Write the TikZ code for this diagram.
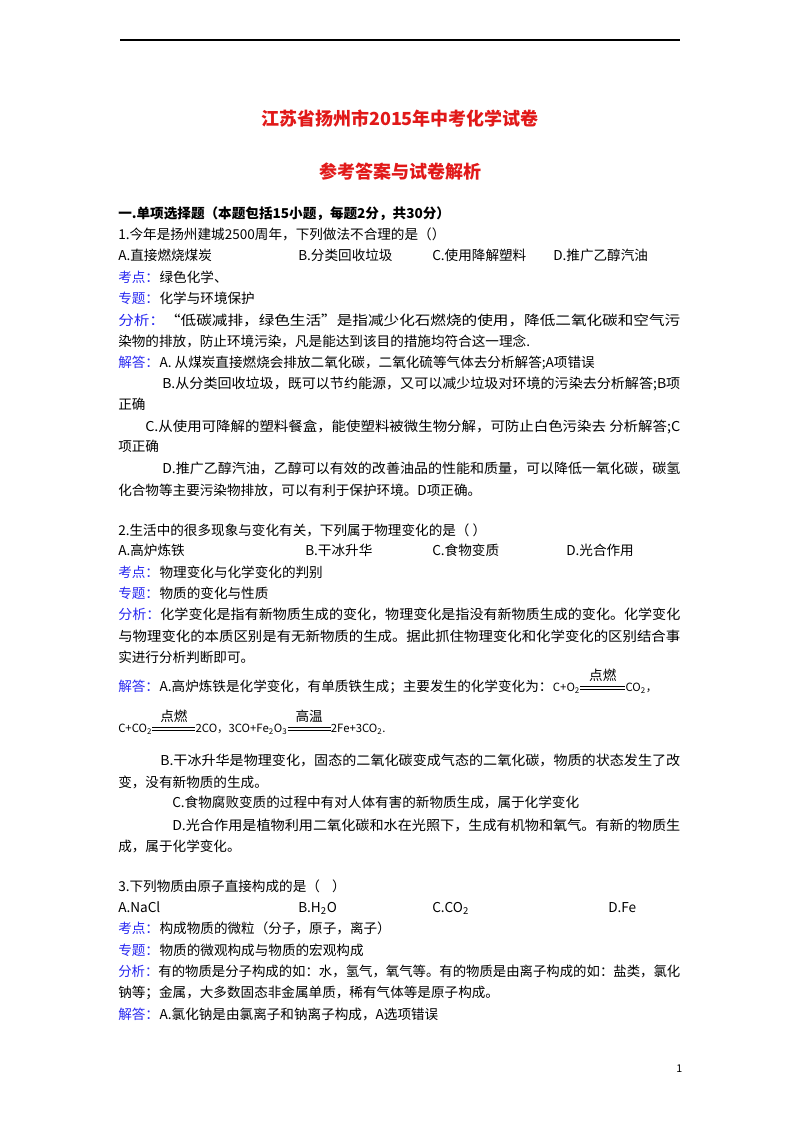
\documentclass[tikz,border=0pt]{standalone}
\usepackage{fontspec}
\usepackage{graphicx}
\setmainfont{Noto Sans CJK SC}
\usetikzlibrary{calc}
\definecolor{kblue}{RGB}{40,40,240}
\definecolor{kred}{RGB}{225,25,25}
\tikzset{x=0.75pt,y=-0.75pt,
 t/.style={anchor=base west,inner sep=0pt,font=\fontsize{10.2}{12}\selectfont},
 lab/.style={t,text=kblue},
 eqf/.style={t,font=\fontsize{8.5}{10}\selectfont},
 up/.style={anchor=base,inner sep=0pt,font=\fontsize{10.2}{12}\selectfont}}
\newcommand{\s}[1]{\textsubscript{#1}}
\newcommand{\fl}[2]{\resizebox{#1}{\height}{#2}}
\newcommand{\bl}[1]{\textcolor{kblue}{#1}}
\newcommand{\eqbar}[2]{\draw[line width=0.5pt] ($(#1)+(0,-1.2)$) -- ($(#2)+(0,-1.2)$); \draw[line width=0.5pt] ($(#1)+(0,1.2)$) -- ($(#2)+(0,1.2)$);}
\begin{document}
\begin{tikzpicture}
\useasboundingbox (0,0) rectangle (800,1132);
\draw[line width=0.8pt] (120,40) coordinate (r1) -- (680,40) coordinate (r2);
\node[anchor=base,inner sep=0pt,text=kred,font=\fontsize{13.5}{16}\bfseries\selectfont] (title) at (400,125) {江苏省扬州市2015年中考化学试卷};
\node[anchor=base,inner sep=0pt,text=kred,font=\fontsize{13.5}{16}\bfseries\selectfont] (sub) at (400,178) {参考答案与试卷解析};
\node[t,font=\fontsize{10.2}{12}\bfseries\selectfont] (h1) at (118,218) {一.单项选择题（本题包括15小题，每题2分，共30分）};
\node[t] (q1) at (118,239) {1.今年是扬州建城2500周年，下列做法不合理的是（）};
\node[t] (q1a) at (118,260) {A.直接燃烧煤炭};
\node[t] (q1b) at (298,260) {B.分类回收垃圾};
\node[t] (q1c) at (432,260) {C.使用降解塑料};
\node[t] (q1d) at (553,260) {D.推广乙醇汽油};
\node[lab] (k1) at (118,282) {考点：};
\node[t] (k1t) at (k1.base east) {绿色化学、};
\node[lab] (z1) at (118,303) {专题：};
\node[t] (z1t) at (z1.base east) {化学与环境保护};
\node[t] (f1) at (118,325) {\fl{421.5pt}{\bl{分析：}“低碳减排，绿色生活”是指减少化石燃烧的使用，降低二氧化碳和空气污}};
\node[t] (f1u) at (118,346) {染物的排放，防止环境污染，凡是能达到该目的措施均符合这一理念.};
\node[lab] (j1) at (118,367) {解答：};
\node[t] (j1t) at (j1.base east) {A.\ 从煤炭直接燃烧会排放二氧化碳，二氧化硫等气体去分析解答;A项错误};
\node[t] (j1b) at (162,388) {\fl{388.5pt}{B.从分类回收垃圾，既可以节约能源，又可以减少垃圾对环境的污染去分析解答;B项}};
\node[t] (j1b2) at (118,409) {正确};
\node[t] (j1c) at (145,431) {\fl{401.25pt}{C.从使用可降解的塑料餐盒，能使塑料被微生物分解，可防止白色污染去\ 分析解答;C}};
\node[t] (j1c2) at (118,451) {项正确};
\node[t] (j1d) at (162,473) {\fl{388.5pt}{D.推广乙醇汽油，乙醇可以有效的改善油品的性能和质量，可以降低一氧化碳，碳氢}};
\node[t] (j1d2) at (118,495) {化合物等主要污染物排放，可以有利于保护环境。D项正确。};
\node[t] (q2) at (118,535) {2.生活中的很多现象与变化有关，下列属于物理变化的是（\ ）};
\node[t] (q2a) at (118,555) {A.高炉炼铁};
\node[t] (q2b) at (305,555) {B.干冰升华};
\node[t] (q2c) at (432,555) {C.食物变质};
\node[t] (q2d) at (566,555) {D.光合作用};
\node[lab] (k2) at (118,577) {考点：};
\node[t] (k2t) at (k2.base east) {物理变化与化学变化的判别};
\node[lab] (z2) at (118,598) {专题：};
\node[t] (z2t) at (z2.base east) {物质的变化与性质};
\node[t] (f2) at (118,619) {\fl{421.5pt}{\bl{分析：}化学变化是指有新物质生成的变化，物理变化是指没有新物质生成的变化。化学变化}};
\node[t] (f2u) at (118,641) {\fl{421.5pt}{与物理变化的本质区别是有无新物质的生成。据此抓住物理变化和化学变化的区别结合事}};
\node[t] (f2v) at (118,662) {实进行分析判断即可。};
\node[lab] (j2) at (118,691) {解答：};
\node[t] (j2t) at (j2.base east) {A.高炉炼铁是化学变化，有单质铁生成；主要发生的化学变化为：};
\node[eqf] (e1l) at (j2t.base east) {C+O\s{2}};
\coordinate (e1a) at ($(e1l.base east)+(0,-3)$);
\coordinate (e1b) at ($(e1a)+(45,0)$);
\eqbar{e1a}{e1b}
\node[up] (e1c) at ($(e1a)!0.5!(e1b)+(0,-8)$) {点燃};
\node[eqf] (e1r) at (e1l.base east -| e1b) {CO\s{2}，};
\node[eqf] (e2l) at (118,732) {C+CO\s{2}};
\coordinate (e2a) at ($(e2l.base east)+(0,-3)$);
\coordinate (e2b) at ($(e2a)+(43,0)$);
\eqbar{e2a}{e2b}
\node[up] (e2c) at ($(e2a)!0.5!(e2b)+(0,-8)$) {点燃};
\node[eqf] (e2r) at (e2l.base east -| e2b) {2CO，3CO+Fe\s{2}O\s{3}};
\coordinate (e3a) at ($(e2r.base east)+(0,-3)$);
\coordinate (e3b) at ($(e3a)+(43,0)$);
\eqbar{e3a}{e3b}
\node[up] (e3c) at ($(e3a)!0.5!(e3b)+(0,-8)$) {高温};
\node[eqf] (e3r) at (e2r.base east -| e3b) {2Fe+3CO\s{2}.};
\node[t] (j2b) at (160,765) {\fl{390pt}{B.干冰升华是物理变化，固态的二氧化碳变成气态的二氧化碳，物质的状态发生了改}};
\node[t] (j2b2) at (118,787) {变，没有新物质的生成。};
\node[t] (j2c) at (172,807) {C.食物腐败变质的过程中有对人体有害的新物质生成，属于化学变化};
\node[t] (j2d) at (172,830) {\fl{381pt}{D.光合作用是植物利用二氧化碳和水在光照下，生成有机物和氧气。有新的物质生}};
\node[t] (j2d2) at (118,851) {成，属于化学变化。};
\node[t] (q3) at (118,891) {3.下列物质由原子直接构成的是（\ \ \ \ ）};
\node[t] (q3a) at (118,912) {A.NaCl};
\node[t] (q3b) at (298,912) {B.H\s{2}O};
\node[t] (q3c) at (432,912) {C.CO\s{2}};
\node[t] (q3d) at (608,912) {D.Fe};
\node[lab] (k3) at (118,933) {考点：};
\node[t] (k3t) at (k3.base east) {构成物质的微粒（分子，原子，离子）};
\node[lab] (z3) at (118,955) {专题：};
\node[t] (z3t) at (z3.base east) {物质的微观构成与物质的宏观构成};
\node[t] (f3) at (118,976) {\fl{421.5pt}{\bl{分析：}有的物质是分子构成的如：水，氢气，氧气等。有的物质是由离子构成的如：盐类，氯化}};
\node[t] (f3u) at (118,997) {钠等；金属，大多数固态非金属单质，稀有气体等是原子构成。};
\node[lab] (j3) at (118,1019) {解答：};
\node[t] (j3t) at (j3.base east) {A.氯化钠是由氯离子和钠离子构成，A选项错误};
\node[t,font=\fontsize{8}{10}\selectfont] (pg) at (676,1072) {1};
\end{tikzpicture}
\end{document}
